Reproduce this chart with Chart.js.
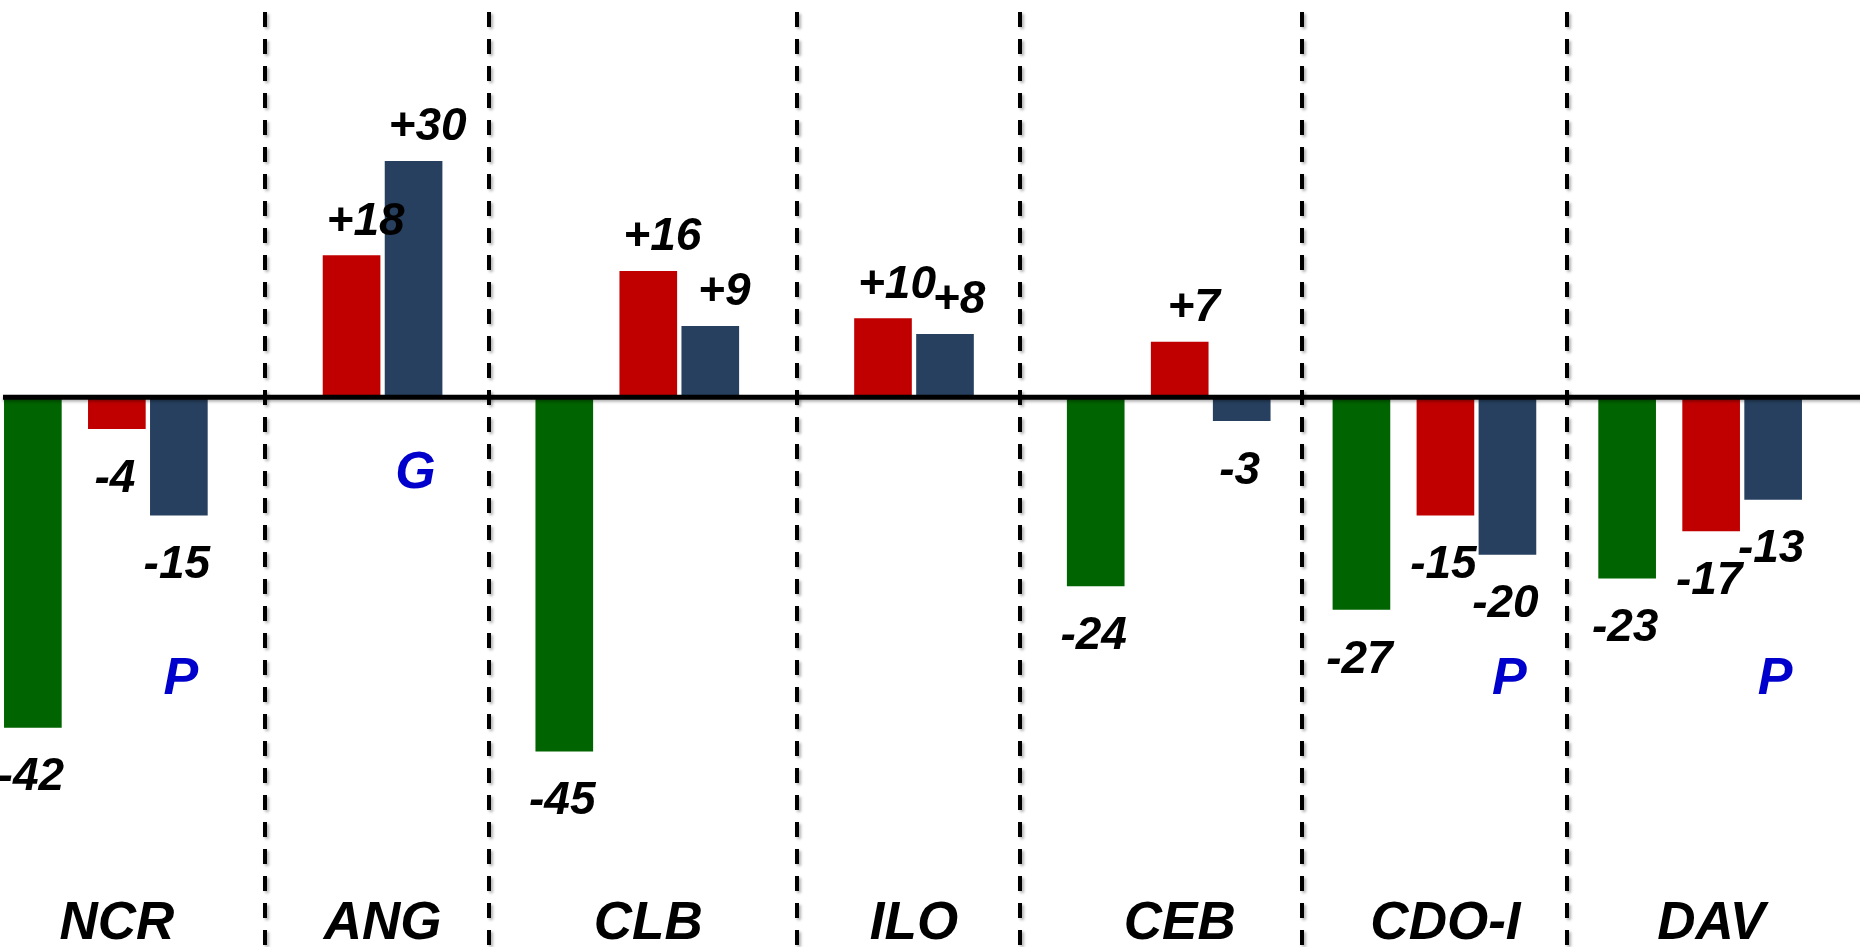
<!DOCTYPE html>
<html lang="en">
<head>
  <meta charset="UTF-8">
  <title>Regional change</title>
  <script src="https://cdn.jsdelivr.net/npm/chart.js"></script>
  <style>
    html, body {
      margin: 0;
      padding: 0;
      background: #fff;
      overflow: hidden;
    }
    #wrap {
      position: absolute;
      left: -16px;
      top: 0;
      width: 1880px;
      height: 947px;
    }
  </style>
</head>
<body>
  <div id="wrap"><canvas id="chart" width="1880" height="947"></canvas></div>

  <script>
    const regions = ['NCR', 'ANG', 'CLB', 'ILO', 'CEB', 'CDO-I', 'DAV'];
    const greenVals = [-42, null, -45, null, -24, -27, -23];
    const redVals = [-4, 18, 16, 10, 7, -15, -17];
    const navyVals = [-15, 30, 9, 8, -3, -20, -13];
    const notes = ['P', 'G', null, null, null, 'P', 'P'];

    const seriesVals = [greenVals, redVals, navyVals];
    const boldItalic = "'Liberation Sans', Arial, sans-serif";

    // baseline (in axis units) for the blue letters
    const noteBase = { G: -11.6, P: -37.7 };

    const decor = {
      id: 'decor',
      beforeDatasetsDraw(chart) {
        const ctx = chart.ctx;
        // left / right edge of each region's bars
        const edges = regions.map((_, i) => {
          let lo = Infinity, hi = -Infinity;
          seriesVals.forEach((vals, d) => {
            if (vals[i] === null) return;
            const el = chart.getDatasetMeta(d).data[i];
            lo = Math.min(lo, el.x - el.width / 2);
            hi = Math.max(hi, el.x + el.width / 2);
          });
          return [lo, hi];
        });
        ctx.save();
        ctx.strokeStyle = '#000';
        ctx.lineWidth = 4;
        ctx.setLineDash([15, 12]);
        ctx.lineDashOffset = 15;
        ctx.shadowColor = 'rgba(0,0,0,0.3)';
        ctx.shadowBlur = 3;
        ctx.shadowOffsetX = 2;
        ctx.shadowOffsetY = 2;
        for (let i = 0; i < edges.length - 1; i++) {
          const x = Math.round((edges[i][1] + edges[i + 1][0]) / 2);
          ctx.beginPath();
          ctx.moveTo(x, 0);
          ctx.lineTo(x, chart.height);
          ctx.stroke();
        }
        ctx.restore();
      },
      afterDatasetsDraw(chart) {
        const ctx = chart.ctx;
        const y = chart.scales.y;
        const y0 = y.getPixelForValue(0);

        // zero line
        ctx.save();
        ctx.strokeStyle = '#000';
        ctx.lineWidth = 5;
        ctx.shadowColor = 'rgba(0,0,0,0.3)';
        ctx.shadowBlur = 3;
        ctx.shadowOffsetY = 2;
        ctx.beginPath();
        ctx.moveTo(19, y0);
        ctx.lineTo(chart.width, y0);
        ctx.stroke();
        ctx.restore();

        // value labels
        ctx.save();
        ctx.fillStyle = '#000';
        ctx.font = `italic bold 46px ${boldItalic}`;
        ctx.textAlign = 'center';
        ctx.textBaseline = 'alphabetic';
        seriesVals.forEach((vals, d) => {
          const meta = chart.getDatasetMeta(d);
          vals.forEach((v, i) => {
            if (v === null) return;
            const el = meta.data[i];
            if (v > 0) {
              ctx.fillText('+' + v, el.x + 14, el.y - 21);
            } else {
              ctx.fillText(String(v), el.x - 2, el.y + 63);
            }
          });
        });

        // blue letters under the navy bars
        ctx.fillStyle = '#0000cc';
        ctx.font = `italic bold 52px ${boldItalic}`;
        const navyMeta = chart.getDatasetMeta(2);
        notes.forEach((n, i) => {
          if (!n) return;
          ctx.fillText(n, navyMeta.data[i].x + 2, y.getPixelForValue(noteBase[n]));
        });
        ctx.restore();
      }
    };

    const barCommon = { maxBarThickness: 57, skipNull: true, borderWidth: 0 };

    new Chart(document.getElementById('chart'), {
      type: 'bar',
      data: {
        labels: regions,
        datasets: [
          { ...barCommon, label: 'Green', data: greenVals, backgroundColor: '#006400', barThickness: 84 },
          { ...barCommon, label: 'Red', data: redVals, backgroundColor: '#c00000', barThickness: 62 },
          { ...barCommon, label: 'Navy', data: navyVals, backgroundColor: '#27405f', barThickness: 62 }
        ]
      },
      options: {
        responsive: false,
        animation: false,
        layout: { padding: { top: 4, right: 20, bottom: 0, left: 0 } },
        plugins: {
          legend: { display: false },
          tooltip: { enabled: false }
        },
        scales: {
          x: {
            grid: { display: false, drawTicks: false },
            border: { display: false },
            afterFit(scale) { scale.height = 78; },
            ticks: {
              color: '#000',
              padding: 29,
              maxRotation: 0,
              font: { family: boldItalic, size: 53, weight: 'bold', style: 'italic', lineHeight: 1 }
            }
          },
          y: {
            display: false,
            min: -60,
            max: 50
          }
        }
      },
      plugins: [decor]
    });
  </script>
</body>
</html>
